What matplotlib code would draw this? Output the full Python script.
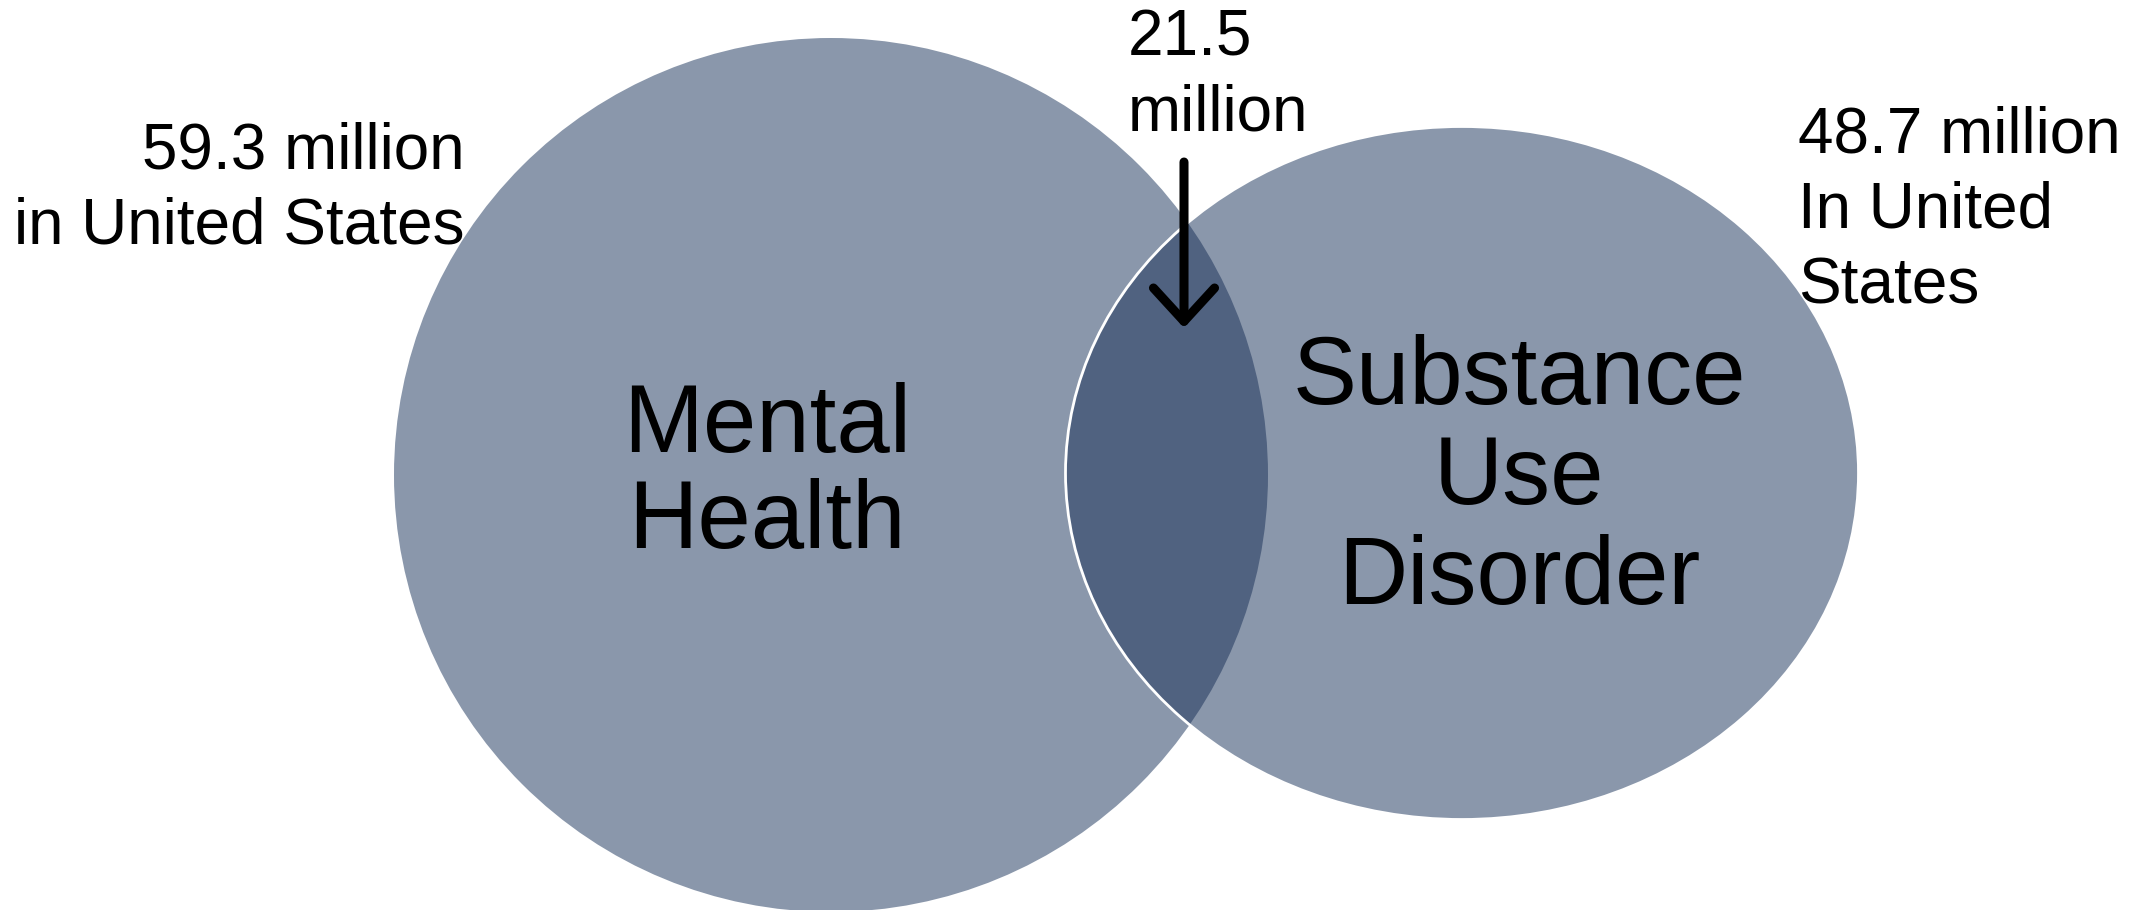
import matplotlib.pyplot as plt
from matplotlib.patches import Ellipse

plt.rcParams['font.family'] = ['Liberation Sans', 'DejaVu Sans']

# values shown on the diagram (millions of people in the US)
groups = ["Mental\nHealth", "Substance\nUse\nDisorder"]
totals = [59.3, 48.7]
overlap = 21.5
total_labels = [f"{totals[0]} million\nin United States", f"{totals[1]} million\nIn United\nStates"]
overlap_label = f"{overlap}\nmillion"

light = "#8A97AB"
dark = "#506280"

fig = plt.figure(figsize=(21.36, 9.10), dpi=100)
ax = fig.add_axes([0, 0, 1, 1])
ax.set_xlim(0, 2136)
ax.set_ylim(910, 0)
ax.set_aspect("equal")
ax.axis("off")

# left circle (mental health) and right ellipse (substance use)
left = Ellipse((831, 475), 874, 874, facecolor=light, edgecolor="none", zorder=1)
right = Ellipse((1462, 473), 793, 693, facecolor=light, edgecolor="none", zorder=2)
ax.add_patch(left)
ax.add_patch(right)

# overlap: right ellipse clipped to the left circle
both = Ellipse((1462, 473), 793, 693, facecolor=dark, edgecolor="none", zorder=3)
ax.add_patch(both)
both.set_clip_path(left)

outline = Ellipse((1462, 473), 793, 693, facecolor="none", edgecolor="white", lw=2, zorder=4)
ax.add_patch(outline)

ax.text(767, 475, groups[0], fontsize=69, ha="center", va="center",
        linespacing=1.08, zorder=5)
ax.text(1519, 479, groups[1], fontsize=69, ha="center", va="center",
        linespacing=1.14, zorder=5)

ax.text(465, 189, total_labels[0], fontsize=46, ha="right", va="center",
        multialignment="right", linespacing=1.32, zorder=5)
ax.text(1798, 211, total_labels[1], fontsize=46, ha="left", va="center",
        linespacing=1.32, zorder=5)
ax.text(1128, 76, overlap_label, fontsize=46, ha="left", va="center",
        linespacing=1.32, zorder=5)

ax.annotate("", xy=(1184, 328), xytext=(1184, 162),
            arrowprops=dict(arrowstyle="->,head_length=0.6,head_width=0.55",
                            lw=6.5, color="black", mutation_scale=40,
                            capstyle="round", joinstyle="round",
                            shrinkA=0, shrinkB=0),
            zorder=6)

fig.savefig("out.png", dpi=100)
